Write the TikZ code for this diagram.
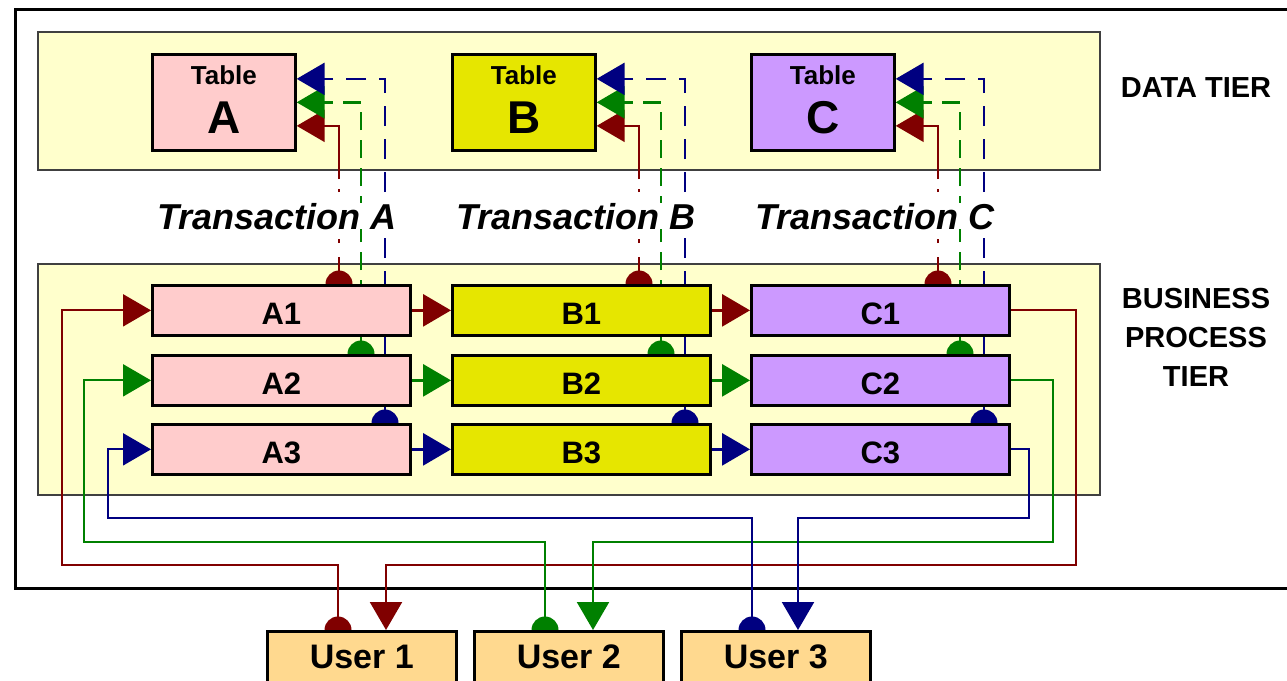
\documentclass[tikz,border=0pt]{standalone}
\usepackage{fontspec}
\setmainfont{Liberation Sans}
\usetikzlibrary{arrows.meta,calc}
\pgfdeclarelayer{back}
\pgfdeclarelayer{lines}
\pgfsetlayers{back,lines,main}
\definecolor{rd}{HTML}{800000}
\definecolor{gn}{HTML}{008000}
\definecolor{bl}{HTML}{000080}
\definecolor{pA}{HTML}{FFCCCC}
\definecolor{pB}{HTML}{E6E600}
\definecolor{pC}{HTML}{CC99FF}
\definecolor{panelc}{HTML}{FFFFCC}
\definecolor{usrc}{HTML}{FFD98F}
\begin{document}
\begin{tikzpicture}[x=1pt,y=-1pt,
  tip/.style={-{Triangle[length=28pt,width=32pt]}},
  flowline/.style={line width=3pt},
  loopline/.style={line width=2.2pt},
  dline/.style={line width=2.5pt},
  redcommit/.style={dash pattern=on 27pt off 14pt on 4pt off 47pt on 3pt off 10pt on 400pt off 1pt},
  greendash/.style={dash pattern=on 18pt off 10pt},
  bluedash/.style={dash pattern=on 20pt off 13pt},
  procbox/.style={draw=black,line width=2.7pt,anchor=north west,inner sep=0pt,minimum width=258pt,minimum height=50pt,text height=28pt,text depth=0pt,font=\bfseries\fontsize{31}{31}\selectfont},
  tblbox/.style={draw=black,line width=2.7pt,anchor=north west,inner sep=0pt,minimum width=143pt,minimum height=96pt},
  usrbox/.style={draw=black,line width=2.5pt,fill=usrc,anchor=north west,inner sep=0pt,minimum width=189pt,minimum height=52pt,font=\bfseries\fontsize{34}{34}\selectfont},
  panelbox/.style={fill=panelc,draw=black!75,line width=1.5pt},
  tiertext/.style={font=\bfseries\fontsize{29}{39}\selectfont,align=center},
  transtext/.style={font=\bfseries\itshape\fontsize{36}{36}\selectfont,fill=white,inner sep=0pt,anchor=base},
  tblsmall/.style={font=\bfseries\fontsize{26}{26}\selectfont,anchor=base,inner sep=0pt},
  tblbig/.style={font=\bfseries\fontsize{46}{46}\selectfont,anchor=base,inner sep=0pt}
]
\useasboundingbox (0,0) rectangle (1287,680);

% frame and panels
\begin{pgfonlayer}{back}
  \fill[white] (0,0) rectangle (1287,680);
  \draw[line width=3pt] (1287,9) -- (15,9) -- (15,588) -- (1287,588);
  \draw[panelbox] (38,32) rectangle (1100,170);
  \draw[panelbox] (38,264) rectangle (1100,495);
\end{pgfonlayer}

% tables
\node[tblbox,fill=pA] (TA) at (151,53) {};
\node[tblbox,fill=pB] (TB) at (451,53) {};
\node[tblbox,fill=pC] (TC) at (750,53) {};
\foreach \c in {A,B,C}{
  \node[tblsmall] (T\c t) at ($(T\c.north)+(0,31)$) {Table};
  \node[tblbig] (T\c l) at ($(T\c.north)+(0,80)$) {\c};
}

% transaction labels
\node[transtext] (TrA) at (277,229) {Transaction A};
\node[transtext] (TrB) at (576,229) {Transaction B};
\node[transtext] (TrC) at (875,229) {Transaction C};

% tier labels
\node[font=\bfseries\fontsize{29}{29}\selectfont,anchor=base] (DT) at (1196,97) {DATA TIER};
\node[tiertext] (BPT) at (1196,337) {BUSINESS\\PROCESS\\TIER};

% process boxes
\node[procbox,fill=pA] (A1) at (151,284) {A1};
\node[procbox,fill=pA] (A2) at (151,354) {A2};
\node[procbox,fill=pA] (A3) at (151,423) {A3};
\node[procbox,fill=pB] (B1) at (451,284) {B1};
\node[procbox,fill=pB] (B2) at (451,354) {B2};
\node[procbox,fill=pB] (B3) at (451,423) {B3};
\node[procbox,fill=pC] (C1) at (750,284) {C1};
\node[procbox,fill=pC] (C2) at (750,354) {C2};
\node[procbox,fill=pC] (C3) at (750,423) {C3};

% users
\node[usrbox] (U1) at (266,630) {User 1};
\node[usrbox] (U2) at (473,630) {User 2};
\node[usrbox] (U3) at (680,630) {User 3};

% loop corners
\coordinate (L1) at (62,565);   \coordinate (R1) at (1076,565);
\coordinate (L2) at (84,542);   \coordinate (R2) at (1053,542);
\coordinate (L3) at (108,518);  \coordinate (R3) at (1029,518);

\begin{pgfonlayer}{lines}
  % transaction lines to tables
  \foreach \c in {A,B,C}{
    \draw[rd,dline,redcommit,tip] ($(\c1.north west)+(188,0)$) coordinate (r\c) |- ($(T\c.east)+(0,23.5)$);
    \fill[rd] (r\c) circle (13.5);
    \draw[gn,dline,greendash,tip] ($(\c2.north west)+(210,0)$) coordinate (g\c) |- (T\c.east);
    \fill[gn] (g\c) circle (13.5);
    \draw[bl,dline,bluedash,tip] ($(\c3.north west)+(234,0)$) coordinate (b\c) |- ($(T\c.east)+(0,-23.5)$);
    \fill[bl] (b\c) circle (13.5);
  }
  % process flows
  \draw[rd,flowline,tip] (A1) -- (B1);
  \draw[rd,flowline,tip] (B1) -- (C1);
  \draw[gn,flowline,tip] (A2) -- (B2);
  \draw[gn,flowline,tip] (B2) -- (C2);
  \draw[bl,flowline,tip] (A3) -- (B3);
  \draw[bl,flowline,tip] (B3) -- (C3);
  % user loops
  \draw[rd,loopline,tip] ($(U1.north west)+(72,0)$) coordinate (u1s) |- (L1) |- (A1.west);
  \fill[rd] (u1s) circle (13.5);
  \draw[rd,loopline,tip] (C1.east) -| (R1) -| ($(U1.north west)+(120,0)$);
  \draw[gn,loopline,tip] ($(U2.north west)+(72,0)$) coordinate (u2s) |- (L2) |- (A2.west);
  \fill[gn] (u2s) circle (13.5);
  \draw[gn,loopline,tip] (C2.east) -| (R2) -| ($(U2.north west)+(120,0)$);
  \draw[bl,loopline,tip] ($(U3.north west)+(72,0)$) coordinate (u3s) |- (L3) |- (A3.west);
  \fill[bl] (u3s) circle (13.5);
  \draw[bl,loopline,tip] (C3.east) -| (R3) -| ($(U3.north west)+(118,0)$);
\end{pgfonlayer}
\end{tikzpicture}
\end{document}
